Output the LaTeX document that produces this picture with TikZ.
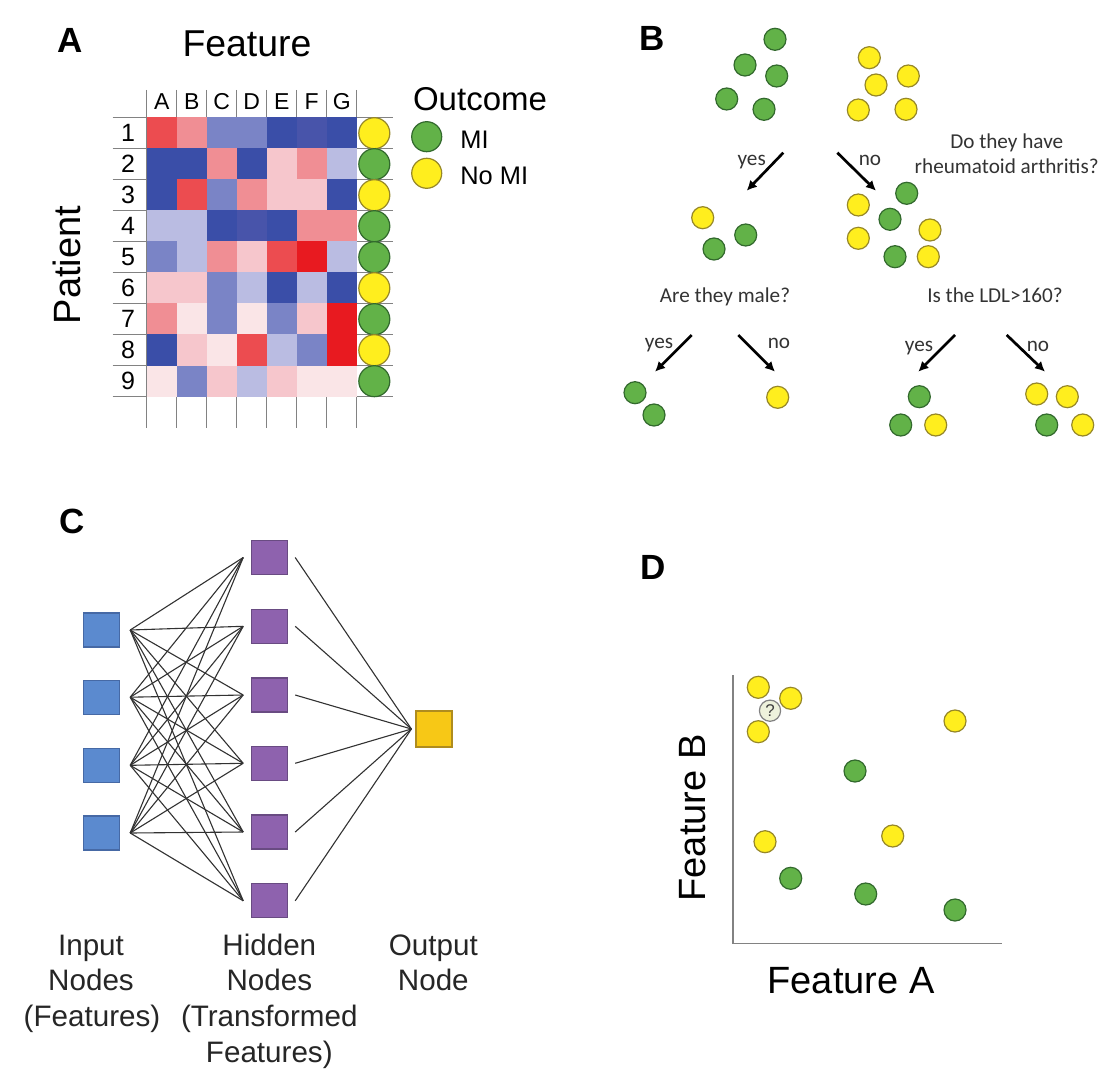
\documentclass[tikz,border=0pt]{standalone}
\usepackage{fontspec}
\setmainfont{Liberation Sans}
\newfontfamily\bfont{Carlito}
\usetikzlibrary{arrows.meta}
\definecolor{gfill}{RGB}{98,178,72}
\definecolor{gline}{RGB}{50,105,45}
\definecolor{yfill}{RGB}{255,238,30}
\definecolor{yline}{RGB}{150,135,40}
\definecolor{cDB}{RGB}{58,78,168}
\definecolor{cDC}{RGB}{72,84,170}
\definecolor{cMB}{RGB}{122,132,198}
\definecolor{cLB}{RGB}{186,188,226}
\definecolor{cVP}{RGB}{250,229,231}
\definecolor{cLP}{RGB}{246,198,204}
\definecolor{cMP}{RGB}{240,142,148}
\definecolor{cR}{RGB}{236,76,80}
\definecolor{cSR}{RGB}{232,26,32}
\definecolor{gridc}{RGB}{130,130,130}
\definecolor{infill}{RGB}{91,138,207}
\definecolor{inline}{RGB}{70,105,165}
\definecolor{hfill}{RGB}{142,98,174}
\definecolor{hline}{RGB}{105,75,130}
\definecolor{ofill}{RGB}{247,200,22}
\definecolor{oline}{RGB}{175,140,30}
\definecolor{netc}{RGB}{50,50,50}
\definecolor{qfill}{RGB}{238,242,220}
\begin{document}
\begin{tikzpicture}[x=0.5pt,y=-0.5pt,
  gdot/.style={circle,fill=gfill,draw=gline,line width=0.6pt,minimum size=11pt,inner sep=0pt},
  ydot/.style={circle,fill=yfill,draw=yline,line width=0.6pt,minimum size=11pt,inner sep=0pt},
  plabel/.style={font=\fontsize{17.5}{20}\selectfont\bfseries},
  gridline/.style={draw=gridc,line width=0.6pt},
  btext/.style={font=\bfont\fontsize{10.6}{12.7}\selectfont,text=black!80,anchor=base},
  barrow/.style={line width=1.35pt,-{Latex[length=5pt,width=5pt]}},
  insq/.style={rectangle,fill=infill,draw=inline,line width=0.6pt,minimum width=18pt,minimum height=17pt,inner sep=0pt,outer xsep=5.5pt},
  hsq/.style={rectangle,fill=hfill,draw=hline,line width=0.6pt,minimum width=18pt,minimum height=17pt,inner sep=0pt,outer xsep=4pt},
  osq/.style={rectangle,fill=ofill,draw=oline,line width=0.6pt,minimum width=18pt,minimum height=18pt,inner sep=0pt,outer xsep=2.3pt},
  netline/.style={draw=netc,line width=0.55pt},
  clabel/.style={font=\fontsize{14.8}{17.75}\selectfont,text=black!85,anchor=base},
  axis/.style={draw=gridc,line width=0.8pt}
]
\useasboundingbox (0,0) rectangle (1112,1080);
\fill[white] (0,0) rectangle (1112,1080);

% ---------------- Panel A ----------------
\node[plabel] (labA) at (70,40) {A};
\node[font=\fontsize{18.7}{22}\selectfont,anchor=base] (featA) at (247,56.7) {Feature};
\node[font=\fontsize{19}{22}\selectfont,anchor=base,rotate=90] (patient) at (80,265) {Patient};
\foreach \k in {0,...,7} \draw[gridline] (146.7+30*\k,90) -- (146.7+30*\k,428);
\foreach \r in {0,...,9} \draw[gridline] (112.7,117.7+31*\r) -- (393.3,117.7+31*\r);
\foreach \row [count=\r from 0] in {
  {cR,cMP,cMB,cMB,cDB,cDC,cDB},
  {cDB,cDB,cMP,cDB,cLP,cMP,cLB},
  {cDB,cR,cMB,cMP,cLP,cLP,cDB},
  {cLB,cLB,cDB,cDC,cDB,cMP,cMP},
  {cMB,cLB,cMP,cLP,cR,cSR,cLB},
  {cLP,cLP,cMB,cLB,cDB,cLB,cDB},
  {cMP,cVP,cMB,cVP,cMB,cLP,cSR},
  {cDB,cLP,cVP,cR,cLB,cMB,cSR},
  {cVP,cMB,cLP,cLB,cLP,cVP,cVP}} {
  \foreach \c [count=\k from 0] in \row {
    \fill[\c] (146.7+30*\k-0.2,117.7+31*\r-0.2) rectangle ++(30.4,31.4);
  }
}
\foreach \l [count=\k from 0] in {A,B,C,D,E,F,G}
  \node[font=\fontsize{11.5}{13}\selectfont,anchor=base] (col\l) at (161.7+30*\k,110) {\l};
\foreach \n [count=\r from 0] in {1,...,9}
  \node[font=\fontsize{12.5}{14}\selectfont,anchor=base] (rowl\n) at (128,141.7+31*\r) {\n};
\foreach \fc/\dc [count=\r from 0] in {yfill/yline,gfill/gline,yfill/yline,gfill/gline,gfill/gline,yfill/yline,gfill/gline,yfill/yline,gfill/gline}
  \node[circle,fill=\fc,draw=\dc,line width=0.6pt,minimum size=15.5pt,inner sep=0pt] (oc\r) at (374.3,133.2+31*\r) {};
\node[font=\fontsize{16.5}{19}\selectfont,anchor=base] (outcome) at (480,110.7) {Outcome};
\node[gdot,minimum size=15pt] (legG) at (426.7,136.7) {};
\node[ydot,minimum size=15pt] (legY) at (426.7,173.3) {};
\node[font=\fontsize{12.7}{15}\selectfont,anchor=base west,inner sep=0pt] (legMI) at (460,148.3) {MI};
\node[font=\fontsize{12.7}{15}\selectfont,anchor=base west,inner sep=0pt] (legNo) at (460,185) {No MI};

% ---------------- Panel B ----------------
\node[plabel] (labB) at (652,38) {B};
\foreach \x/\y [count=\i] in {775/39.3,745/65,776.7/76,726.7/99,764/109.3}
  \node[gdot] (tg\i) at (\x,\y) {};
\foreach \x/\y [count=\i] in {869.3/57.7,908.3/76,876/85,858.3/110,906/109.3}
  \node[ydot] (ty\i) at (\x,\y) {};
\coordinate (a1s) at (783.3,152.7); \coordinate (a1e) at (746.7,190.7);
\coordinate (a2s) at (837.3,152.7); \coordinate (a2e) at (876,190.7);
\draw[barrow] (a1s) -- (a1e);
\draw[barrow] (a2s) -- (a2e);
\node[btext] (yes1) at (751.7,166) {yes};
\node[btext] (no1) at (870,166) {no};
\node[btext] (q1a) at (1006.7,148.3) {Do they have};
\node[btext] (q1b) at (1006.7,173.3) {rheumatoid arthritis?};
% middle left
\node[ydot] (ml1) at (702.7,217.7) {};
\node[gdot] (ml2) at (745.7,235) {};
\node[gdot] (ml3) at (714,249) {};
% middle right
\node[gdot] (mr1) at (906.7,193.3) {};
\node[ydot] (mr2) at (858.3,205) {};
\node[gdot] (mr3) at (890,219.3) {};
\node[ydot] (mr4) at (930,230) {};
\node[ydot] (mr5) at (858.3,238.3) {};
\node[gdot] (mr6) at (895,256.7) {};
\node[ydot] (mr7) at (928.3,256.7) {};
\node[btext] (q2) at (725,302.7) {Are they male?};
\node[btext] (q3) at (995,302.7) {Is the LDL>160?};
% lower arrows
\coordinate (b1s) at (691.7,335); \coordinate (b1e) at (655,371.7);
\coordinate (b2s) at (738.3,335); \coordinate (b2e) at (775,371.7);
\coordinate (b3s) at (955,335); \coordinate (b3e) at (918.3,371.7);
\coordinate (b4s) at (1006.7,335); \coordinate (b4e) at (1045,371.7);
\draw[barrow] (b1s) -- (b1e);
\draw[barrow] (b2s) -- (b2e);
\draw[barrow] (b3s) -- (b3e);
\draw[barrow] (b4s) -- (b4e);
\node[btext] (yes2) at (659,348.3) {yes};
\node[btext] (no2) at (779,348.3) {no};
\node[btext] (yes3) at (919,351.7) {yes};
\node[btext] (no3) at (1038,351.7) {no};
% leaves
\node[gdot] (l1) at (635,392.7) {};
\node[gdot] (l2) at (654,415) {};
\node[ydot] (l3) at (777.7,397.3) {};
\node[gdot] (l4) at (919.3,396.7) {};
\node[gdot] (l5) at (900.7,425) {};
\node[ydot] (l6) at (935.7,425) {};
\node[ydot] (l7) at (1036.7,394) {};
\node[ydot] (l8) at (1067.3,396.7) {};
\node[gdot] (l9) at (1046.7,425) {};
\node[ydot] (l10) at (1082.7,425) {};

% ---------------- Panel C ----------------
\node[plabel] (labC) at (72,521) {C};
\foreach \y [count=\i] in {630,697.2,765.3,833}
  \node[insq] (in\i) at (101.2,\y) {};
\foreach \y [count=\j] in {557.5,626.3,695,763.3,832,900.8}
  \node[hsq] (h\j) at (269.2,\y) {};
\node[osq] (out) at (434,729) {};
\foreach \i in {1,...,4}
  \foreach \j in {1,...,6}
    \draw[netline] (in\i.east) -- (h\j.west);
\foreach \j in {1,...,6}
  \draw[netline] (h\j.east) -- (out.west);
\node[clabel] (inl1) at (91,955) {Input};
\node[clabel] (inl2) at (91,990.7) {Nodes};
\node[clabel] (inl3) at (92,1026.3) {(Features)};
\node[clabel] (hl1) at (269.3,955) {Hidden};
\node[clabel] (hl2) at (269.3,990.7) {Nodes};
\node[clabel] (hl3) at (269.3,1026.3) {(Transformed};
\node[clabel] (hl4) at (269.3,1062) {Features)};
\node[clabel] (ol1) at (433.3,955) {Output};
\node[clabel] (ol2) at (433.3,990.7) {Node};

% ---------------- Panel D ----------------
\node[plabel] (labD) at (653,567) {D};
\coordinate (ytop) at (732.7,675);
\coordinate (orig) at (732.7,943.3);
\coordinate (xend) at (1001.7,943.3);
\draw[axis] (ytop) -- (orig) -- (xend);
\foreach \x/\y [count=\i] in {758.3/687.3,790.7/698.3,758.3/731.7,955/721,765/841.7,892.7/836}
  \node[ydot] (dy\i) at (\x,\y) {};
\foreach \x/\y [count=\i] in {855/771,790.7/878.3,865.7/894,955/910}
  \node[gdot] (dg\i) at (\x,\y) {};
\node[circle,fill=qfill,draw=gridc,line width=0.6pt,minimum size=10.6pt,inner sep=0pt,font=\fontsize{8.5}{9}\selectfont,text=black!75] (qm) at (770,710.7) {?};
\node[font=\fontsize{19}{22}\selectfont,anchor=base,rotate=90] (featB) at (705,818) {Feature B};
\node[font=\fontsize{19}{22}\selectfont,anchor=base] (featAx) at (851,993.3) {Feature A};
\end{tikzpicture}
\end{document}
